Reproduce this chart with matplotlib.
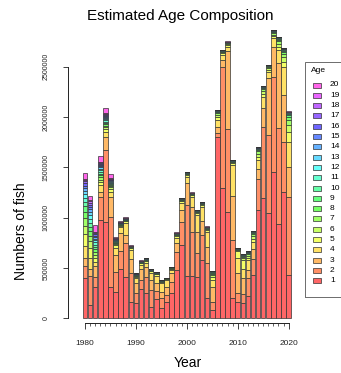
import colorsys
import numpy as np
import matplotlib
matplotlib.use('Agg')
import matplotlib.pyplot as plt
from matplotlib.patches import Rectangle

plt.rcParams['font.family'] = ['Liberation Sans', 'DejaVu Sans']

years = np.arange(1980, 2021)
ages = list(range(1, 21))

# numbers at age, thousands of fish, one list per age (1980..2020)
age1 = [400, 134, 316, 977, 960, 310, 260, 495, 415, 167, 151, 290, 250, 117, 190, 101, 167, 250, 481, 729,
        422, 422, 409, 580, 200, 84, 1798, 1292, 1060, 200, 167, 155, 223, 432, 1076, 1198, 1044, 1456, 934, 1258, 432]
age2 = [116, 290, 99, 231, 711, 700, 204, 172, 337, 288, 99, 92, 165, 166, 85, 99, 66, 115, 182, 231,
        704, 440, 244, 248, 347, 82, 46, 1206, 817, 578, 83, 93, 176, 156, 308, 704, 777, 942, 958, 490, 777]
age3 = [82, 70, 106, 50, 126, 198, 166, 182, 76, 133, 99, 109, 99, 99, 73, 65, 76, 89, 83, 116,
        215, 248, 208, 142, 165, 149, 60, 66, 780, 437, 200, 149, 82, 99, 99, 188, 562, 298, 639, 469, 298]
age4 = [120, 110, 43, 66, 56, 50, 66, 57, 116, 92, 50, 40, 40, 72, 75, 83, 72, 27, 50, 66,
        65, 99, 166, 139, 149, 66, 66, 50, 40, 308, 150, 99, 99, 75, 89, 109, 65, 83, 132, 281, 248]
age5 = [116, 100, 40, 30, 30, 30, 30, 15, 20, 15, 15, 15, 15, 15, 15, 15, 10, 10, 20, 20,
        20, 15, 20, 20, 20, 30, 30, 20, 20, 20, 70, 82, 20, 30, 30, 30, 20, 20, 30, 50, 99]
age6 = [82, 60, 30, 24, 16, 12, 10, 5, 5, 6, 6, 5, 6, 4, 4, 3, 2, 5, 8, 6,
        5, 5, 6, 5, 6, 18, 20, 7, 7, 6, 6, 20, 25, 28, 35, 28, 16, 18, 35, 45, 70]
age7 = [86, 50, 28, 22, 15, 11, 9, 4, 4, 5, 5, 4, 5, 3, 4, 3, 2, 4, 6, 5,
        4, 4, 5, 4, 5, 14, 14, 5, 5, 5, 5, 12, 14, 16, 20, 16, 10, 12, 22, 28, 45]
age8 = [55, 50, 26, 20, 14, 10, 8, 4, 4, 4, 4, 3, 4, 3, 3, 2, 2, 3, 5, 4,
        4, 3, 4, 3, 4, 10, 10, 4, 4, 4, 4, 9, 9, 11, 14, 11, 7, 9, 15, 20, 30]
age9 = [55, 45, 24, 18, 13, 10, 7, 3, 3, 3, 4, 3, 3, 2, 3, 2, 1, 3, 4, 4,
        3, 3, 3, 3, 3, 7, 7, 3, 3, 3, 3, 6, 6, 7, 9, 7, 5, 7, 10, 13, 20]
age10 = [45, 40, 22, 17, 12, 9, 6, 3, 3, 2, 3, 3, 3, 2, 2, 2, 1, 2, 3, 3,
         3, 2, 3, 2, 3, 4, 5, 3, 3, 3, 2, 4, 4, 5, 6, 5, 3, 5, 7, 9, 13]
age11 = [40, 40, 20, 16, 12, 8, 6, 3, 3, 2, 3, 2, 3, 2, 2, 2, 1, 2, 3, 3,
         2, 2, 2, 2, 2, 3, 4, 2, 2, 2, 2, 3, 3, 3, 4, 3, 2, 4, 5, 6, 9]
age12 = [35, 35, 20, 15, 11, 8, 5, 3, 3, 1, 2, 2, 2, 2, 2, 1, 1, 1, 2, 2,
         2, 2, 2, 2, 2, 2, 3, 2, 2, 2, 2, 2, 2, 2, 3, 2, 1, 3, 3, 4, 6]
age13 = [30, 30, 18, 14, 11, 7, 5, 2, 2, 1, 2, 2, 2, 1, 1, 1, 1, 1, 2, 2,
         1, 1, 2, 1, 2, 1, 2, 1, 1, 2, 1, 1, 1, 1, 2, 1, 1, 2, 2, 3, 3]
age14 = [30, 30, 16, 13, 10, 7, 4, 2, 2, 1, 2, 1, 1, 1, 1, 1, 1, 1, 1, 1,
         1, 1, 1, 1, 1, 1, 1, 1, 1, 1, 1, 1, 1, 1, 1, 1, 1, 1, 1, 2, 1]
age15 = [25, 25, 14, 12, 10, 6, 4, 2, 2, 1, 1, 1, 1, 1, 1, 1, 1, 1, 1, 1,
         1, 1, 1, 1, 1, 1, 1, 1, 1, 1, 1, 1, 1, 1, 1, 1, 1, 1, 1, 1, 1]
age16 = [25, 20, 12, 10, 9, 5, 3, 1, 1, 1, 1, 1, 1, 1, 1, 0, 0, 0, 1, 1,
         1, 1, 1, 0, 1, 1, 1, 1, 1, 1, 1, 1, 0, 1, 1, 1, 0, 0, 1, 1, 0]
age17 = [20, 20, 10, 8, 8, 4, 3, 1, 1, 1, 1, 1, 1, 0, 0, 0, 0, 0, 0, 1,
         0, 0, 0, 0, 0, 0, 1, 0, 0, 0, 0, 0, 0, 0, 0, 0, 0, 0, 0, 0, 0]
age18 = [15, 15, 10, 7, 7, 3, 2, 1, 1, 0, 1, 0, 0, 0, 0, 0, 0, 0, 0, 0,
         0, 0, 0, 0, 0, 0, 0, 0, 0, 0, 0, 0, 0, 0, 0, 0, 0, 0, 0, 0, 0]
age19 = [10, 10, 8, 5, 5, 3, 2, 1, 1, 0, 0, 0, 0, 0, 0, 0, 0, 0, 0, 0,
         0, 0, 0, 0, 0, 0, 0, 0, 0, 0, 0, 0, 0, 0, 0, 0, 0, 0, 0, 0, 0]
age20 = [60, 45, 63, 60, 50, 40, 10, 10, 10, 5, 2, 2, 2, 2, 2, 2, 1, 1, 2, 2,
         2, 2, 2, 2, 2, 2, 2, 2, 2, 2, 2, 2, 2, 2, 2, 2, 2, 2, 2, 2, 2]

counts = [age1, age2, age3, age4, age5, age6, age7, age8, age9, age10,
          age11, age12, age13, age14, age15, age16, age17, age18, age19, age20]

# rainbow with alpha 0.6 over white
cols = []
for k in ages:
    r, g, b = colorsys.hsv_to_rgb((k - 1) * 0.045, 1, 1)
    cols.append((1 - 0.6 * (1 - r), 1 - 0.6 * (1 - g), 1 - 0.6 * (1 - b)))

W, H = 341, 373
fig = plt.figure(figsize=(W / 100, H / 100), dpi=100)
ax = fig.add_axes([68 / W, 1 - 322.7 / H, (293.2 - 68) / W, (322.7 - 26.2) / H])

edge = '#333333'
bottom = np.zeros(len(years))
for k, vals in zip(ages, counts):
    v = np.array(vals, dtype=float) * 1000
    ax.bar(years, v, width=0.9, bottom=bottom, color=cols[k - 1],
           edgecolor=edge, linewidth=0.5)
    bottom += v

ax.set_xlim(1976.66, 2020.9)
ax.set_ylim(-41700, 2.9e6)

for s in ['top', 'right']:
    ax.spines[s].set_visible(False)
ax.spines['left'].set_bounds(0, 2.5e6)
ax.spines['bottom'].set_bounds(1980, 2020)
for s in ['left', 'bottom']:
    ax.spines[s].set_linewidth(0.7)
    ax.spines[s].set_color('#222222')

yt = [0, 500000, 1000000, 1500000, 2000000, 2500000]
ax.set_yticks(yt)
ax.set_yticklabels([str(t) for t in yt], rotation=90, va='center')
ax.set_xticks(range(1980, 2021, 10))
ax.set_xticks(years, minor=True)
ax.tick_params(axis='y', labelsize=5, length=3.5, pad=10, width=0.6, colors='#222222')
ax.tick_params(axis='x', which='major', labelsize=6, length=4, pad=8.5, width=0.6, colors='#222222')
ax.tick_params(axis='x', which='minor', length=2, width=0.5, color='#222222')

fig.text(180 / W, 1 - 16 / H, 'Estimated Age Composition', ha='center', va='center', fontsize=11)
fig.text(21 / W, 1 - 231 / H, 'Numbers of fish', rotation=90, ha='center', va='center', fontsize=10)
fig.text(188 / W, 1 - 363 / H, 'Year', ha='center', va='center', fontsize=10)

# legend box drawn by hand, runs off the right edge like the original
fig.patches.append(Rectangle((305 / W, 1 - 297 / H), 40 / W, 235 / H, fill=False,
                             edgecolor='#555555', linewidth=0.6, transform=fig.transFigure))
fig.text(318 / W, 1 - 71 / H, 'Age', ha='center', va='center', fontsize=6)
for i, k in enumerate(reversed(ages)):
    yc = 85 + i * 10.3
    fig.patches.append(Rectangle((313.3 / W, 1 - (yc + 2.5) / H), 7.3 / W, 5 / H,
                                 facecolor=cols[k - 1], edgecolor=edge, linewidth=0.5,
                                 transform=fig.transFigure))
    fig.text(330 / W, 1 - yc / H, str(k), ha='left', va='center', fontsize=6)

fig.savefig('out.png', dpi=100)
